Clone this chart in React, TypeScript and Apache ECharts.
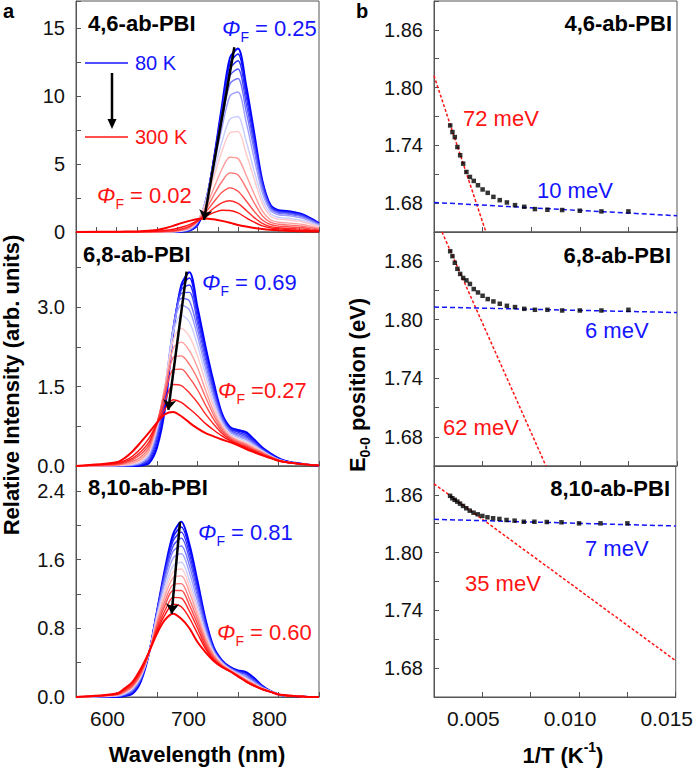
import React, { useEffect, useRef } from "react";
import * as echarts from "echarts";

const FONT = "'Liberation Sans', Arial, Helvetica, sans-serif";
const AX = "#555555";
const BLUE = "#1414ff";
const RED = "#ff1414";

// ---------- panel a : spectra (common wavelength grid, curves ordered 80 K -> 300 K) ----------
const wavelength = [550, 600, 610, 620, 630, 640, 650, 660, 670, 680, 690, 700, 710, 720, 730, 740, 750, 760, 770, 780, 790, 800, 810, 820, 830, 840, 850];

const spec46 = [
  [0, 0, 0, 0, 0, 0, 0, 0, 0, 0.02, 0.1, 0.5, 2.0, 5.3, 9.2, 12.8, 13.5, 10.8, 7.3, 3.8, 2.0, 1.6, 1.55, 1.45, 1.3, 1.0, 0.65],
  [0, 0, 0, 0, 0, 0, 0, 0, 0, 0.03, 0.12, 0.55, 2.1, 5.3, 9.0, 12.4, 13.1, 10.4, 7.0, 3.7, 1.95, 1.55, 1.5, 1.4, 1.26, 0.97, 0.63],
  [0, 0, 0, 0, 0, 0, 0, 0, 0, 0.04, 0.14, 0.6, 2.2, 5.3, 8.8, 12.0, 12.6, 10.0, 6.7, 3.55, 1.9, 1.5, 1.45, 1.35, 1.22, 0.94, 0.61],
  [0, 0, 0, 0, 0, 0, 0, 0, 0.01, 0.05, 0.16, 0.65, 2.3, 5.2, 8.5, 11.5, 12.0, 9.5, 6.4, 3.4, 1.82, 1.45, 1.39, 1.3, 1.17, 0.9, 0.58],
  [0, 0, 0, 0, 0, 0, 0, 0, 0.01, 0.06, 0.18, 0.7, 2.3, 5.1, 8.1, 10.9, 11.3, 8.9, 6.0, 3.2, 1.72, 1.38, 1.32, 1.23, 1.1, 0.85, 0.55],
  [0, 0, 0, 0, 0, 0, 0, 0, 0.01, 0.07, 0.2, 0.75, 2.3, 4.9, 7.6, 10.0, 10.3, 8.1, 5.4, 2.9, 1.58, 1.27, 1.21, 1.13, 1.01, 0.78, 0.5],
  [0, 0, 0, 0, 0, 0, 0, 0, 0.02, 0.08, 0.22, 0.8, 2.2, 4.4, 6.6, 8.3, 8.5, 6.7, 4.5, 2.45, 1.35, 1.08, 1.02, 0.95, 0.85, 0.66, 0.43],
  [0, 0, 0, 0, 0, 0, 0, 0.01, 0.02, 0.09, 0.25, 0.8, 2.1, 4.0, 5.9, 7.3, 7.4, 5.8, 3.9, 2.1, 1.18, 0.95, 0.9, 0.83, 0.74, 0.57, 0.37],
  [0, 0, 0, 0, 0, 0, 0.01, 0.02, 0.04, 0.12, 0.3, 0.8, 1.8, 3.2, 4.6, 5.5, 5.4, 4.2, 2.8, 1.55, 0.9, 0.72, 0.67, 0.62, 0.55, 0.42, 0.28],
  [0, 0, 0, 0, 0, 0.01, 0.01, 0.03, 0.05, 0.14, 0.33, 0.8, 1.6, 2.7, 3.7, 4.35, 4.2, 3.25, 2.15, 1.2, 0.72, 0.57, 0.52, 0.48, 0.42, 0.32, 0.21],
  [0, 0, 0, 0, 0.01, 0.01, 0.02, 0.04, 0.07, 0.17, 0.37, 0.8, 1.45, 2.2, 2.9, 3.25, 3.0, 2.3, 1.52, 0.88, 0.55, 0.43, 0.39, 0.35, 0.31, 0.23, 0.16],
  [0, 0, 0, 0.01, 0.01, 0.02, 0.03, 0.06, 0.1, 0.22, 0.42, 0.78, 1.25, 1.75, 2.15, 2.3, 2.1, 1.6, 1.06, 0.63, 0.4, 0.31, 0.27, 0.24, 0.21, 0.15, 0.1],
  [0, 0, 0.01, 0.01, 0.02, 0.04, 0.06, 0.12, 0.2, 0.35, 0.55, 0.85, 1.15, 1.42, 1.6, 1.58, 1.4, 1.05, 0.72, 0.45, 0.3, 0.23, 0.18, 0.15, 0.12, 0.09, 0.06],
  [0, 0.02, 0.03, 0.04, 0.06, 0.1, 0.15, 0.28, 0.45, 0.65, 0.82, 0.95, 1.0, 0.93, 0.82, 0.68, 0.52, 0.4, 0.3, 0.22, 0.16, 0.12, 0.09, 0.07, 0.05, 0.04, 0.03],
];

const spec68 = [
  [0, 0, 0, 0, 0.01, 0.05, 0.35, 1.1, 2.5, 3.42, 3.66, 3.0, 2.25, 1.58, 1.0, 0.74, 0.68, 0.64, 0.5, 0.35, 0.24, 0.15, 0.09, 0.06, 0.04, 0.02, 0.01],
  [0, 0, 0, 0, 0.02, 0.08, 0.42, 1.2, 2.55, 3.38, 3.55, 2.9, 2.17, 1.52, 0.98, 0.72, 0.66, 0.61, 0.48, 0.33, 0.23, 0.14, 0.09, 0.055, 0.04, 0.02, 0.01],
  [0, 0, 0, 0.01, 0.03, 0.11, 0.5, 1.3, 2.6, 3.33, 3.42, 2.8, 2.1, 1.46, 0.95, 0.7, 0.64, 0.58, 0.46, 0.32, 0.22, 0.13, 0.08, 0.05, 0.035, 0.02, 0.01],
  [0, 0, 0, 0.01, 0.04, 0.14, 0.57, 1.38, 2.62, 3.26, 3.28, 2.7, 2.02, 1.4, 0.92, 0.68, 0.61, 0.55, 0.44, 0.31, 0.21, 0.13, 0.08, 0.05, 0.035, 0.02, 0.01],
  [0, 0.005, 0.01, 0.02, 0.05, 0.17, 0.63, 1.45, 2.62, 3.17, 3.12, 2.58, 1.93, 1.34, 0.89, 0.66, 0.58, 0.52, 0.42, 0.3, 0.2, 0.12, 0.08, 0.05, 0.035, 0.02, 0.01],
  [0, 0.005, 0.01, 0.02, 0.06, 0.2, 0.68, 1.5, 2.6, 3.04, 2.95, 2.45, 1.84, 1.28, 0.86, 0.64, 0.56, 0.5, 0.4, 0.29, 0.19, 0.12, 0.08, 0.05, 0.035, 0.02, 0.01],
  [0, 0.01, 0.02, 0.03, 0.08, 0.23, 0.72, 1.52, 2.52, 2.85, 2.72, 2.28, 1.72, 1.2, 0.82, 0.61, 0.53, 0.47, 0.38, 0.28, 0.19, 0.12, 0.08, 0.05, 0.035, 0.02, 0.01],
  [0, 0.01, 0.02, 0.04, 0.1, 0.26, 0.75, 1.52, 2.38, 2.6, 2.45, 2.08, 1.58, 1.12, 0.78, 0.58, 0.5, 0.44, 0.36, 0.27, 0.18, 0.11, 0.07, 0.05, 0.035, 0.02, 0.01],
  [0, 0.015, 0.03, 0.06, 0.13, 0.3, 0.78, 1.5, 2.22, 2.34, 2.18, 1.86, 1.43, 1.03, 0.74, 0.56, 0.48, 0.42, 0.34, 0.26, 0.18, 0.11, 0.07, 0.05, 0.035, 0.02, 0.01],
  [0, 0.02, 0.05, 0.09, 0.17, 0.35, 0.8, 1.44, 2.05, 2.08, 1.92, 1.65, 1.3, 0.96, 0.7, 0.54, 0.46, 0.4, 0.32, 0.25, 0.17, 0.11, 0.07, 0.05, 0.035, 0.02, 0.01],
  [0, 0.03, 0.06, 0.12, 0.22, 0.4, 0.82, 1.36, 1.82, 1.83, 1.67, 1.44, 1.15, 0.88, 0.66, 0.52, 0.44, 0.38, 0.3, 0.24, 0.17, 0.11, 0.07, 0.05, 0.035, 0.02, 0.01],
  [0, 0.04, 0.08, 0.15, 0.27, 0.45, 0.8, 1.22, 1.54, 1.52, 1.38, 1.2, 0.98, 0.79, 0.62, 0.5, 0.42, 0.36, 0.29, 0.22, 0.16, 0.1, 0.07, 0.05, 0.035, 0.02, 0.01],
  [0, 0.05, 0.1, 0.19, 0.33, 0.52, 0.8, 1.08, 1.25, 1.2, 1.08, 0.95, 0.8, 0.68, 0.57, 0.48, 0.41, 0.34, 0.27, 0.21, 0.15, 0.1, 0.07, 0.05, 0.035, 0.02, 0.01],
  [0, 0.07, 0.15, 0.28, 0.45, 0.63, 0.82, 0.98, 1.02, 0.94, 0.82, 0.71, 0.62, 0.56, 0.5, 0.45, 0.39, 0.32, 0.26, 0.2, 0.15, 0.1, 0.07, 0.05, 0.035, 0.02, 0.01],
];

const spec810 = [
  [0, 0, 0.01, 0.04, 0.18, 0.5, 1.0, 1.5, 1.9, 2.04, 1.78, 1.35, 0.9, 0.58, 0.43, 0.35, 0.31, 0.29, 0.22, 0.13, 0.07, 0.03, 0.015, 0.01, 0.005, 0, 0],
  [0, 0.005, 0.015, 0.05, 0.19, 0.51, 1.0, 1.48, 1.86, 1.98, 1.73, 1.31, 0.88, 0.57, 0.42, 0.35, 0.3, 0.28, 0.21, 0.13, 0.07, 0.03, 0.015, 0.01, 0.005, 0, 0],
  [0, 0.005, 0.02, 0.06, 0.2, 0.51, 1.0, 1.46, 1.82, 1.92, 1.67, 1.27, 0.86, 0.56, 0.42, 0.34, 0.3, 0.27, 0.2, 0.12, 0.07, 0.03, 0.015, 0.01, 0.005, 0, 0],
  [0, 0.01, 0.025, 0.07, 0.21, 0.51, 0.99, 1.43, 1.76, 1.85, 1.61, 1.22, 0.83, 0.55, 0.41, 0.34, 0.29, 0.26, 0.19, 0.12, 0.07, 0.03, 0.015, 0.01, 0.005, 0, 0],
  [0, 0.01, 0.03, 0.08, 0.22, 0.51, 0.98, 1.39, 1.7, 1.76, 1.53, 1.17, 0.8, 0.54, 0.41, 0.33, 0.28, 0.24, 0.18, 0.11, 0.07, 0.03, 0.015, 0.01, 0.005, 0, 0],
  [0, 0.01, 0.035, 0.09, 0.23, 0.51, 0.96, 1.34, 1.62, 1.67, 1.45, 1.11, 0.77, 0.53, 0.4, 0.33, 0.28, 0.23, 0.17, 0.11, 0.07, 0.03, 0.015, 0.01, 0.005, 0, 0],
  [0, 0.015, 0.04, 0.1, 0.24, 0.51, 0.94, 1.28, 1.53, 1.57, 1.36, 1.05, 0.74, 0.52, 0.4, 0.32, 0.27, 0.22, 0.16, 0.1, 0.065, 0.03, 0.015, 0.01, 0.005, 0, 0],
  [0, 0.02, 0.05, 0.11, 0.25, 0.51, 0.91, 1.23, 1.46, 1.49, 1.29, 1.0, 0.71, 0.5, 0.39, 0.32, 0.26, 0.21, 0.15, 0.1, 0.065, 0.03, 0.015, 0.01, 0.005, 0, 0],
  [0, 0.02, 0.055, 0.12, 0.26, 0.51, 0.88, 1.18, 1.39, 1.41, 1.22, 0.95, 0.68, 0.49, 0.38, 0.31, 0.26, 0.2, 0.15, 0.1, 0.065, 0.03, 0.015, 0.01, 0.005, 0, 0],
  [0, 0.025, 0.06, 0.13, 0.27, 0.51, 0.85, 1.12, 1.31, 1.32, 1.14, 0.9, 0.65, 0.47, 0.37, 0.31, 0.25, 0.19, 0.14, 0.09, 0.06, 0.03, 0.015, 0.01, 0.005, 0, 0],
  [0, 0.03, 0.07, 0.14, 0.28, 0.51, 0.82, 1.07, 1.24, 1.24, 1.07, 0.85, 0.62, 0.46, 0.36, 0.3, 0.25, 0.19, 0.14, 0.09, 0.06, 0.03, 0.015, 0.01, 0.005, 0, 0],
  [0, 0.03, 0.08, 0.15, 0.3, 0.52, 0.79, 1.01, 1.16, 1.15, 1.0, 0.8, 0.59, 0.44, 0.36, 0.3, 0.24, 0.18, 0.13, 0.09, 0.06, 0.03, 0.015, 0.01, 0.005, 0, 0],
  [0, 0.035, 0.09, 0.17, 0.31, 0.52, 0.77, 0.96, 1.08, 1.05, 0.92, 0.74, 0.56, 0.43, 0.35, 0.3, 0.24, 0.18, 0.13, 0.09, 0.06, 0.03, 0.015, 0.01, 0.005, 0, 0],
  [0, 0.04, 0.1, 0.18, 0.33, 0.52, 0.74, 0.9, 0.97, 0.91, 0.8, 0.64, 0.52, 0.42, 0.35, 0.3, 0.24, 0.18, 0.13, 0.09, 0.06, 0.03, 0.02, 0.01, 0.005, 0, 0],
];

// arrows (start -> end) in data coordinates [wavelength, intensity]
const arrow46 = [[745.5, 13.6], [708, 0.88]];
const arrow68 = [[686.6, 3.67], [664, 1.06]];
const arrow810 = [[678.4, 2.04], [668.1, 0.97]];

// ---------- panel b : E0-0 vs 1/T ----------
const invT = [0.003333, 0.003448, 0.003571, 0.003704, 0.003846, 0.004, 0.004167, 0.004348, 0.004545, 0.004762, 0.005, 0.005263, 0.005556, 0.005882, 0.00625, 0.006667, 0.007143, 0.007692, 0.008333, 0.009091, 0.01, 0.011111, 0.0125];
const e46 = [1.7607, 1.7538, 1.7486, 1.7383, 1.7297, 1.721, 1.7124, 1.7072, 1.7031, 1.6986, 1.6942, 1.6907, 1.6865, 1.6831, 1.6807, 1.6779, 1.6762, 1.6738, 1.6731, 1.6728, 1.6721, 1.6714, 1.6714];
const e68 = [1.8703, 1.8652, 1.8584, 1.8522, 1.847, 1.8429, 1.8404, 1.8367, 1.8315, 1.828, 1.8246, 1.8212, 1.8188, 1.8164, 1.8143, 1.813, 1.8112, 1.8102, 1.8102, 1.8095, 1.8095, 1.8095, 1.8102];
const e810 = [1.859, 1.8565, 1.8548, 1.853, 1.8509, 1.8485, 1.8461, 1.8436, 1.8415, 1.8398, 1.8381, 1.8367, 1.8357, 1.835, 1.8339, 1.8332, 1.8321, 1.8321, 1.8318, 1.8315, 1.8304, 1.8304, 1.8304];

const redFit46 = [[0.0025, 1.8124], [0.00517, 1.65]];
const blueFit46 = [[0.0025, 1.6807], [0.015, 1.6669]];
const redFit68 = [[0.00291, 1.89], [0.00826, 1.65]];
const blueFit68 = [[0.0025, 1.813], [0.015, 1.8074]];
const redFit810 = [[0.0025, 1.8715], [0.015, 1.6877]];
const blueFit810 = [[0.0025, 1.8346], [0.015, 1.8277]];

const panelNames = ["4,6-ab-PBI", "6,8-ab-PBI", "8,10-ab-PBI"];

function specColor(i: number, n: number): string {
  const t = i / (n - 1);
  let r: number, g: number, b: number;
  if (t < 0.5) {
    const s = Math.pow(t / 0.5, 1.4);
    r = Math.round(225 * s);
    g = Math.round(228 * s);
    b = 255;
  } else {
    const s = Math.pow((1 - t) / 0.5, 1.4);
    r = 255;
    g = Math.round(225 * s);
    b = Math.round(225 * s);
  }
  return `rgb(${r},${g},${b})`;
}

const TOPS = [1, 232, 466];
const HEIGHTS = [231, 234, 231];

function xAxisDef(gi: number, kind: "a" | "b", bottom: boolean, tickInt: number) {
  const a = kind === "a";
  return {
    gridIndex: gi,
    type: "value",
    min: a ? 550 : 0.0025,
    max: a ? 850 : 0.015,
    interval: tickInt,
    axisLine: { show: true, onZero: false, lineStyle: { color: AX, width: 1 } },
    axisTick: { show: true, inside: true, length: 5, lineStyle: { color: AX, width: 1 } },
    splitLine: { show: false },
    axisLabel: {
      show: bottom,
      color: "#111",
      fontSize: 21,
      fontFamily: FONT,
      margin: 11,
      padding: [0, 18, 0, 0],
      showMinLabel: true,
      showMaxLabel: true,
      formatter: a
        ? (v: number) => (Math.round(v) % 100 === 0 && v >= 600 && v <= 800 ? String(Math.round(v)) : "")
        : (v: number) => {
            const r = Math.round(v * 10000);
            return r % 50 === 0 && r >= 50 ? v.toFixed(3) : "";
          },
    },
  };
}

function yAxisDef(gi: number, max: number, min: number, interval: number, fmt: (v: number) => string) {
  return {
    gridIndex: gi,
    type: "value",
    min,
    max,
    interval,
    axisLine: { show: true, onZero: false, lineStyle: { color: AX, width: 1 } },
    axisTick: { show: true, inside: true, length: 5, lineStyle: { color: AX, width: 1 } },
    splitLine: { show: false },
    axisLabel: { color: "#111", fontSize: 20, fontFamily: FONT, margin: 11, formatter: fmt, showMinLabel: true, showMaxLabel: true },
  };
}

function phiText(x: number, y: number, value: string, color: string) {
  return {
    type: "text",
    x,
    y,
    silent: true,
    style: {
      text: `{i|Φ}{s|F}{n|${value}}`,
      align: "left",
      verticalAlign: "middle",
      fill: color,
      fontFamily: FONT,
      rich: {
        i: { fontStyle: "italic", fontSize: 22, lineHeight: 32, fill: color, fontFamily: FONT },
        s: { fontSize: 14, lineHeight: 14, verticalAlign: "bottom", fill: color, fontFamily: FONT },
        n: { fontSize: 22, lineHeight: 32, fill: color, fontFamily: FONT },
      },
    },
  };
}

function plainText(x: number, y: number, text: string, opts: any = {}) {
  return {
    type: "text",
    x,
    y,
    silent: true,
    rotation: opts.rotation || 0,
    style: {
      text,
      fill: opts.fill || "#000",
      fontSize: opts.fontSize || 22,
      fontWeight: opts.bold ? "bold" : "normal",
      fontFamily: FONT,
      align: opts.align || "left",
      verticalAlign: "middle",
    },
  };
}

export default function App() {
  const ref = useRef<HTMLDivElement>(null);

  useEffect(() => {
    document.body.style.margin = "0";
    if (!ref.current) return;
    const chart = echarts.init(ref.current, undefined, { renderer: "svg" });

    const grids: any[] = [];
    for (let c = 0; c < 2; c++) {
      for (let r = 0; r < 3; r++) {
        grids.push({
          left: c === 0 ? 76 : 434,
          top: TOPS[r],
          width: 243,
          height: HEIGHTS[r],
          show: true,
          borderColor: AX,
          borderWidth: 1,
          backgroundColor: "transparent",
          containLabel: false,
        });
      }
    }

    const xAxes = [
      xAxisDef(0, "a", false, 25),
      xAxisDef(1, "a", false, 50),
      xAxisDef(2, "a", true, 50),
      xAxisDef(3, "b", false, 0.0025),
      xAxisDef(4, "b", false, 0.0025),
      xAxisDef(5, "b", true, 0.0025),
    ];

    const fmtE = (v: number) => {
      const r = Math.round(v * 100);
      return r >= 168 && r <= 186 && (r - 168) % 6 === 0 ? (r / 100).toFixed(2) : "";
    };
    const yAxes = [
      yAxisDef(0, 17, 0, 2.5, (v) => (Math.round(v * 10) % 50 === 0 && v <= 15 ? String(Math.round(v)) : "")),
      yAxisDef(1, 4.42, 0, 0.75, (v) => {
        const r = Math.round(v * 100);
        return r % 150 === 0 && r <= 300 ? v.toFixed(1) : "";
      }),
      yAxisDef(2, 2.69, 0, 0.4, (v) => {
        const r = Math.round(v * 10);
        return r % 8 === 0 && r <= 24 ? v.toFixed(1) : "";
      }),
      yAxisDef(3, 1.89, 1.65, 0.03, fmtE),
      yAxisDef(4, 1.89, 1.65, 0.03, fmtE),
      yAxisDef(5, 1.89, 1.65, 0.03, fmtE),
    ];

    const series: any[] = [];
    const specSets = [
      { curves: spec46, arrow: arrow46 },
      { curves: spec68, arrow: arrow68 },
      { curves: spec810, arrow: arrow810 },
    ];
    specSets.forEach((set, p) => {
      const n = set.curves.length;
      set.curves.forEach((curve, i) => {
        const s: any = {
          type: "line",
          xAxisIndex: p,
          yAxisIndex: p,
          data: curve.map((v, j) => [wavelength[j], v]),
          smooth: 0.3,
          showSymbol: false,
          symbol: "none",
          silent: true,
          z: 2,
          lineStyle: { color: specColor(i, n), width: i === 0 || i === n - 1 ? 2 : 1.4 },
        };
        if (i === n - 1) {
          s.markLine = {
            silent: true,
            symbol: ["none", "arrow"],
            symbolSize: 10,
            lineStyle: { color: "#000", width: 2.5, type: "solid" },
            label: { show: false },
            data: [[{ coord: set.arrow[0] }, { coord: set.arrow[1] }]],
          };
        }
        series.push(s);
      });
    });

    const eSets = [
      { e: e46, red: redFit46, blue: blueFit46 },
      { e: e68, red: redFit68, blue: blueFit68 },
      { e: e810, red: redFit810, blue: blueFit810 },
    ];
    eSets.forEach((set, k) => {
      const idx = k + 3;
      series.push({
        type: "line",
        xAxisIndex: idx,
        yAxisIndex: idx,
        data: set.red,
        showSymbol: false,
        symbol: "none",
        silent: true,
        lineStyle: { color: RED, width: 1.5, type: [3, 2] },
        z: 2,
      });
      series.push({
        type: "line",
        xAxisIndex: idx,
        yAxisIndex: idx,
        data: set.blue,
        showSymbol: false,
        symbol: "none",
        silent: true,
        lineStyle: { color: BLUE, width: 1.5, type: [5, 3] },
        z: 2,
      });
      series.push({
        type: "scatter",
        xAxisIndex: idx,
        yAxisIndex: idx,
        data: invT.map((x, i) => [x, set.e[i]]),
        symbol: "rect",
        symbolSize: 4.5,
        silent: true,
        itemStyle: { color: "#000" },
        z: 3,
      });
    });

    const graphic: any[] = [
      plainText(3, 11, "a", { bold: true, fontSize: 20 }),
      plainText(356, 11, "b", { bold: true, fontSize: 20 }),
      // panel titles left
      plainText(88, 23, panelNames[0], { bold: true }),
      plainText(83, 254, panelNames[1], { bold: true }),
      plainText(88, 487, panelNames[2], { bold: true }),
      // panel titles right
      plainText(672, 23, panelNames[0], { bold: true, align: "right" }),
      plainText(671, 255, panelNames[1], { bold: true, align: "right" }),
      plainText(670, 488, panelNames[2], { bold: true, align: "right" }),
      // quantum yields
      phiText(222, 28, " = 0.25", BLUE),
      phiText(97, 195, " = 0.02", RED),
      phiText(202, 282, " = 0.69", BLUE),
      phiText(218, 390, " =0.27", RED),
      phiText(198, 532, " = 0.81", BLUE),
      phiText(217, 632, " = 0.60", RED),
      // legend in top-left panel
      { type: "line", silent: true, shape: { x1: 85, y1: 63, x2: 128, y2: 63 }, style: { stroke: BLUE, lineWidth: 1.5 } },
      { type: "line", silent: true, shape: { x1: 85, y1: 137, x2: 128, y2: 137 }, style: { stroke: RED, lineWidth: 1.5 } },
      plainText(135, 63, "80 K", { fill: BLUE, fontSize: 20 }),
      plainText(135, 137, "300 K", { fill: RED, fontSize: 20 }),
      { type: "line", silent: true, shape: { x1: 112, y1: 73, x2: 112, y2: 121 }, style: { stroke: "#000", lineWidth: 2.5 } },
      { type: "polygon", silent: true, shape: { points: [[107.5, 119], [116.5, 119], [112, 129]] }, style: { fill: "#000" } },
      // activation energies
      plainText(463, 118, "72 meV", { fill: RED }),
      plainText(537, 190, "10 meV", { fill: BLUE }),
      plainText(585, 330, "6 meV", { fill: BLUE }),
      plainText(443, 427, "62 meV", { fill: RED }),
      plainText(585, 548, "7 meV", { fill: BLUE }),
      plainText(465, 583, "35 meV", { fill: RED }),
      // axis titles
      plainText(197, 754, "Wavelength (nm)", { bold: true, align: "center" }),
      plainText(11, 385, "Relative Intensity (arb. units)", { bold: true, align: "center", rotation: Math.PI / 2 }),
      {
        type: "text",
        x: 563,
        y: 755,
        silent: true,
        style: {
          text: "{n|1/T (K}{p|-1}{n|)}",
          align: "center",
          verticalAlign: "middle",
          fill: "#000",
          fontFamily: FONT,
          rich: {
            n: { fontSize: 22, fontWeight: "bold", lineHeight: 30, fill: "#000", fontFamily: FONT },
            p: { fontSize: 14, fontWeight: "bold", lineHeight: 14, verticalAlign: "top", fill: "#000", fontFamily: FONT },
          },
        },
      },
      {
        type: "text",
        x: 357,
        y: 385,
        rotation: Math.PI / 2,
        silent: true,
        style: {
          text: "{n|E}{s|0-0}{n| position (eV)}",
          align: "center",
          verticalAlign: "middle",
          fill: "#000",
          fontFamily: FONT,
          rich: {
            n: { fontSize: 22, fontWeight: "bold", lineHeight: 30, fill: "#000", fontFamily: FONT },
            s: { fontSize: 14, fontWeight: "bold", lineHeight: 14, verticalAlign: "bottom", fill: "#000", fontFamily: FONT },
          },
        },
      },
    ];

    chart.setOption({
      animation: false,
      backgroundColor: "#ffffff",
      grid: grids,
      xAxis: xAxes,
      yAxis: yAxes,
      series,
      graphic,
    });

    return () => {
      chart.dispose();
    };
  }, []);

  return <div ref={ref} style={{ position: "absolute", left: 0, top: 0, width: 696, height: 771 }} />;
}
